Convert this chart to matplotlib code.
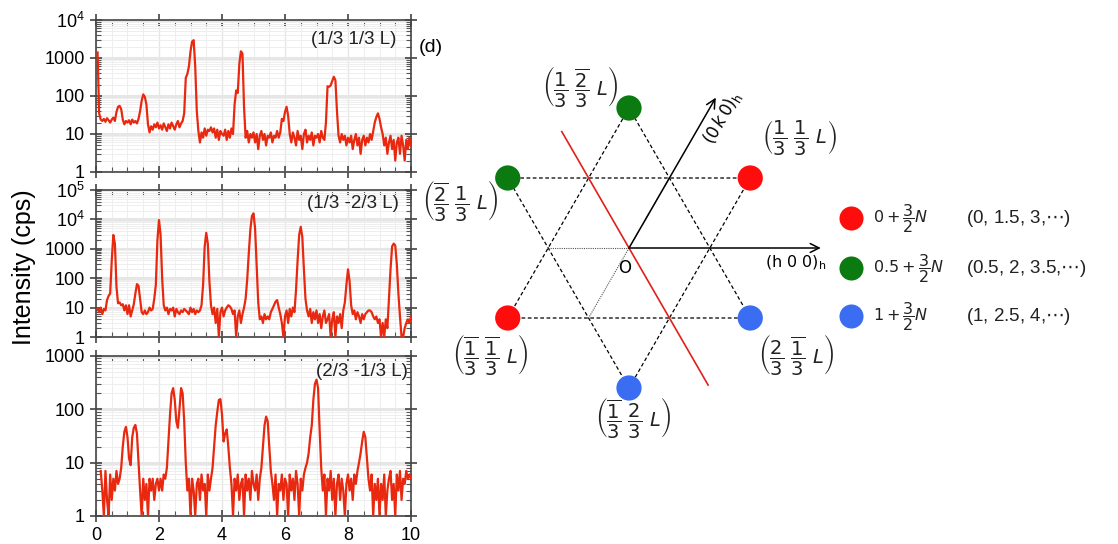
import numpy as np
import matplotlib
matplotlib.use('Agg')
import matplotlib.pyplot as plt
from matplotlib.ticker import MultipleLocator, LogLocator, FuncFormatter, NullFormatter

plt.rcParams['font.family'] = ['Liberation Sans', 'DejaVu Sans']
plt.rcParams['mathtext.fontset'] = 'dejavusans'

# scan grid in L (r.l.u.)
L = np.round(np.arange(1, 201) * 0.05, 2)

# (1/3 1/3 L)
I_a = [1400, 35, 24, 22, 25, 21, 26, 23, 20, 24, 27, 22, 38, 52, 55, 45, 24, 18, 22, 20,
       23, 18, 24, 20, 22, 19, 25, 40, 75, 110, 95, 60, 18, 11, 16, 13, 18, 15, 20, 14,
       17, 13, 19, 15, 12, 18, 14, 20, 16, 13, 18, 22, 15, 19, 22, 35, 300, 380, 600, 1500,
       2700, 2950, 600, 40, 12, 6, 11, 8, 14, 9, 13, 12, 15, 11, 14, 8, 13, 7, 12, 10,
       9, 13, 7, 12, 8, 14, 10, 60, 140, 120, 700, 1500, 1300, 50, 8, 12, 6, 10, 8, 11,
       6, 10, 4, 9, 12, 7, 10, 5, 9, 8, 11, 6, 9, 8, 12, 8, 11, 25, 22, 38,
       52, 30, 10, 6, 11, 8, 5, 12, 7, 9, 4, 10, 13, 6, 9, 7, 11, 5, 9, 8,
       10, 6, 12, 8, 7, 20, 180, 175, 190, 250, 320, 260, 40, 9, 6, 10, 7, 9, 5, 8,
       6, 9, 4, 7, 10, 5, 8, 3, 7, 9, 5, 8, 6, 10, 7, 12, 20, 28, 35, 25,
       15, 10, 5, 8, 3, 6, 9, 4, 7, 2, 6, 8, 3, 9, 5, 2, 7, 4, 8, 5]

# (1/3 -2/3 L)
I_b = [9, 7, 10, 6, 9, 8, 18, 25, 30, 400, 2950, 1500, 50, 14, 15, 12, 13, 8, 12, 6,
       12, 5, 8, 13, 30, 63, 55, 20, 7, 6, 8, 6, 7, 10, 8, 9, 20, 60, 2000, 9500,
       3000, 100, 12, 8, 10, 6, 9, 8, 10, 5, 9, 7, 6, 8, 7, 9, 8, 7, 6, 10,
       7, 9, 6, 8, 7, 8, 12, 60, 1200, 3500, 1500, 80, 12, 6, 10, 3, 9, 1, 7, 10,
       5, 8, 10, 12, 11, 9, 6, 8, 1, 5, 8, 3, 6, 10, 20, 90, 700, 4500, 13000, 16000,
       5000, 300, 15, 4, 5, 3, 6, 4, 5, 4, 7, 9, 12, 16, 18, 10, 6, 3, 1, 5,
       8, 3, 9, 5, 10, 7, 40, 400, 3000, 5600, 2500, 200, 20, 8, 5, 9, 3, 7, 4, 8,
       3, 6, 2, 5, 8, 3, 4, 6, 1, 4, 7, 1, 5, 3, 6, 2, 8, 15, 60, 200,
       80, 12, 6, 8, 4, 7, 5, 3, 6, 4, 6, 7, 8, 8, 7, 5, 4, 5, 3, 4,
       1, 3, 1, 4, 2, 20, 200, 1200, 1500, 1300, 300, 30, 5, 1, 1, 2, 3, 4, 3, 5]

# (2/3 -1/3 L)
I_c = [np.nan, np.nan, 7, 3, 1, 7, 2, 1, 6, 2, 5, 3, 7, 4, 5, 8, 20, 38, 47, 30,
       12, 9, 30, 45, 51, 35, 10, 3, 1, 5, 2, 4, 1, 5, 3, 5, 2, 4, 5, 3,
       5, 3, 6, 5, 8, 25, 80, 200, 250, 150, 60, 45, 100, 250, 200, 60, 10, 3, 5, 1,
       5, 3, 1, 4, 5, 2, 6, 3, 4, 1, 6, 3, 5, 8, 20, 50, 90, 150, 155, 80,
       25, 35, 42, 20, 8, 4, 1, 5, 3, 6, 2, 4, 5, 1, 6, 3, 5, 2, 7, 4,
       3, 6, 2, 5, 8, 20, 50, 73, 60, 20, 7, 4, 2, 6, 1, 4, 3, 6, 2, 5,
       4, 1, 6, 3, 5, 2, 7, 4, 1, 5, 3, 6, 8, 10, 15, 30, 50, 150, 300, 360,
       250, 40, 8, 3, 6, 1, 5, 3, 7, 2, 5, 1, 4, 6, 2, 5, 3, 1, 4, 6,
       3, 5, 2, 6, 4, 7, 10, 15, 25, 38, 30, 12, 5, 3, 6, 1, 4, 2, 5, 1,
       4, 2, 6, 1, 3, 5, 7, 2, 4, 1, 6, 3, 7, 2, 5, 4, 7, 5, 6, 5]

scan_labels = ['(1/3 1/3 L)', '(1/3 -2/3 L)', '(2/3 -1/3 L)']
scan_ymax = [1e4, 1e5, 1e3]

# reciprocal lattice spots (angle on the hexagram, colour, label)
spot_angles = [30, 90, 150, 210, 270, 330]
spot_colors = ['#ff0d0d', '#0b7a10', '#0b7a10', '#ff0d0d', '#3a6df2', '#3a6df2']
spot_labels = [r'$\left(\dfrac{1}{3}\ \dfrac{1}{3}\ L\right)$',
               r'$\left(\dfrac{1}{3}\ \dfrac{\overline{2}}{3}\ L\right)$',
               r'$\left(\dfrac{\overline{2}}{3}\ \dfrac{1}{3}\ L\right)$',
               r'$\left(\dfrac{\overline{1}}{3}\ \dfrac{\overline{1}}{3}\ L\right)$',
               r'$\left(\dfrac{\overline{1}}{3}\ \dfrac{2}{3}\ L\right)$',
               r'$\left(\dfrac{2}{3}\ \dfrac{\overline{1}}{3}\ L\right)$']

leg_colors = ['#ff0d0d', '#0b7a10', '#3a6df2']
leg_formula = [r'$0+\dfrac{3}{2}N$', r'$0.5+\dfrac{3}{2}N$', r'$1+\dfrac{3}{2}N$']
leg_values = [r'(0, 1.5, 3,$\cdots$)', r'(0.5, 2, 3.5,$\cdots$)', r'(1, 2.5, 4,$\cdots$)']

RED = '#e8280f'
W, H = 1118, 544


def fmt_log(v, pos):
    if v <= 1000:
        return '%d' % v
    return r'$\mathregular{10^{%d}}$' % round(np.log10(v))


def panel(ax, I, ymax, label, lx, ly, show_x):
    ax.plot(L, I, color=RED, lw=1.6, zorder=3)
    ax.set_yscale('log')
    ax.set_xlim(0, 10)
    ax.set_ylim(1, ymax)
    ax.xaxis.set_major_locator(MultipleLocator(2))
    ax.xaxis.set_minor_locator(MultipleLocator(0.5))
    ax.yaxis.set_major_locator(LogLocator(10, numticks=20))
    ax.yaxis.set_minor_locator(LogLocator(10, subs=np.arange(2, 10), numticks=20))
    ax.yaxis.set_major_formatter(FuncFormatter(fmt_log))
    ax.yaxis.set_minor_formatter(NullFormatter())
    ax.tick_params(which='major', direction='inout', length=9, width=1.1,
                   top=True, right=True, labelsize=13, colors='#333333', labelcolor='k')
    ax.tick_params(which='minor', direction='in', length=3.5, width=0.8,
                   top=True, right=True, colors='#555555')
    if not show_x:
        ax.tick_params(labelbottom=False)
    ax.grid(which='major', axis='y', color='#e6e6e6', lw=2.2)
    ax.grid(which='major', axis='x', color='#e6e6e6', lw=1.0)
    ax.grid(which='minor', color='#eeeeee', lw=0.7)
    ax.set_axisbelow(True)
    for s in ax.spines.values():
        s.set_color('#444444')
        s.set_linewidth(1.2)
    ax.text(lx, ly, label, transform=ax.transAxes, ha='right', va='center',
            fontsize=13.5, color='#222222')


fig = plt.figure(figsize=(W / 100, H / 100), dpi=100)

boxes = [(20, 172), (190, 337), (356, 516)]
label_pos = [(0.955, 0.875), (0.96, 0.905), (0.99, 0.9)]
for i, (top, bot) in enumerate(boxes):
    ax = fig.add_axes([96 / W, 1 - bot / H, 315 / W, (bot - top) / H])
    panel(ax, I_a if i == 0 else I_b if i == 1 else I_c, scan_ymax[i],
          scan_labels[i], label_pos[i][0], label_pos[i][1], i == 2)

fig.text(24 / W, 1 - 267 / H, 'Intensity (cps)', rotation=90, ha='center',
         va='center', fontsize=18)
fig.text(419 / W, 1 - 48 / H, '(d)', ha='left', va='center', fontsize=14)

# ---- hexagram diagram, 1 unit = 140 px, origin at O
ox, oy, u = 629, 248, 140.0
axd = fig.add_axes([420 / W, 0, (W - 420) / W, 1])
axd.set_xlim((420 - ox) / u, (W - ox) / u)
axd.set_ylim((oy - H) / u, oy / u)
axd.axis('off')

ang = np.deg2rad(spot_angles)
sx, sy = np.cos(ang), np.sin(ang)
for tri in ([2, 0, 4], [1, 3, 5]):
    idx = tri + [tri[0]]
    axd.plot(sx[idx], sy[idx], color='k', lw=0.9, ls=(0, (3, 2)), zorder=1)

r_in = 1 / np.sqrt(3)
for a in (180, 240, 60):
    t = np.deg2rad(a)
    axd.plot([0, r_in * np.cos(t)], [0, r_in * np.sin(t)], color='#555555',
             lw=0.8, ls=(0, (1, 1)), zorder=1)

axd.scatter(sx, sy, s=330, c=spot_colors, zorder=5, linewidths=0)

arrow = dict(arrowstyle='->', lw=1.1, color='k', mutation_scale=16, shrinkA=0, shrinkB=0)
axd.annotate('', xy=(1.37, 0), xytext=(0, 0), arrowprops=arrow)
t60 = np.deg2rad(60)
axd.annotate('', xy=(1.24 * np.cos(t60), 1.24 * np.sin(t60)), xytext=(0, 0), arrowprops=arrow)
axd.text(1.41, -0.105, r'(h 0 0)$_\mathregular{h}$', ha='right', va='center',
         fontsize=11.5, family='DejaVu Sans')
axd.text(0.67, 0.93, r'$(0\,k\,0)_{\rm h}$', ha='center', va='center',
         rotation=60, fontsize=12)
axd.text(-0.03, -0.14, 'O', ha='center', va='center', fontsize=12, family='DejaVu Sans')

t1, t2 = np.deg2rad(120), np.deg2rad(300)
axd.plot([0.96 * np.cos(t1), 1.13 * np.cos(t2)], [0.96 * np.sin(t1), 1.13 * np.sin(t2)],
         color='#e0201a', lw=1.2, zorder=2)

lab_xy = [(1.22, 0.79), (-0.35, 1.15), (-1.21, 0.34), (-0.99, -0.76), (0.03, -1.21), (1.19, -0.76)]
for (x, y), s in zip(lab_xy, spot_labels):
    axd.text(x, y, s, ha='center', va='center', fontsize=14, color='#222222')

# legend of L positions
leg_y = [0.214, -0.143, -0.486]
for c, f, v, y in zip(leg_colors, leg_formula, leg_values, leg_y):
    axd.scatter([1.586], [y], s=300, c=c, linewidths=0)
    axd.text(1.74, y, f, ha='left', va='center', fontsize=11.5, color='#222222')
    axd.text(2.41, y, v, ha='left', va='center', fontsize=13.5, color='#222222')

fig.savefig('out.png', dpi=100)
